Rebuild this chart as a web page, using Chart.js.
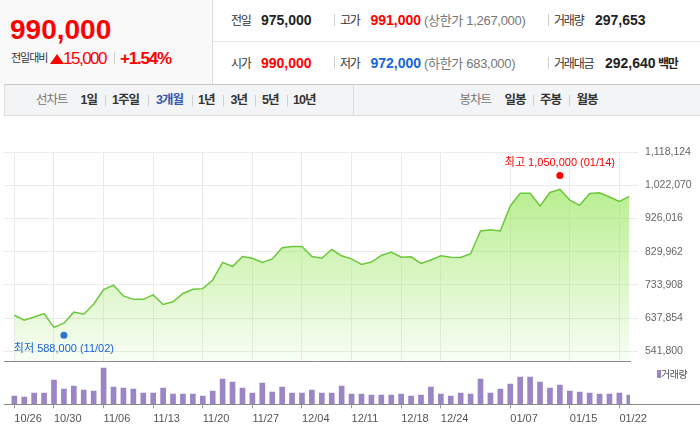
<!DOCTYPE html>
<html><head><meta charset="utf-8">
<script src="https://cdn.jsdelivr.net/npm/chart.js@4.4.1/dist/chart.umd.min.js"></script>
<style>
*{margin:0;padding:0;box-sizing:border-box}
body{width:700px;height:440px;position:relative;background:#fff;overflow:hidden;
 font-family:'Liberation Sans','Noto Sans CJK KR',sans-serif}
.a{position:absolute;white-space:nowrap;line-height:1}
.lb{font-size:12px;letter-spacing:-1.2px;color:#333}
.nb{font-size:14px;font-weight:bold;color:#222}
.pr{font-size:13px;color:#777;letter-spacing:-0.3px}
.sep{position:absolute;width:1px;background:#d0d0d0}
.tb{font-size:12.5px;letter-spacing:-1px;font-weight:bold;color:#333}
canvas{position:absolute;left:0}
</style></head>
<body>
<div class="a" style="left:0;top:0;width:213px;height:84px;background:#f9f9f9;border-right:1px solid #dedede"></div>
<div class="a" style="left:213px;top:41px;width:487px;height:1px;background:#e6e6e6"></div>
<span class="a" style="left:10px;top:15.6px;font-size:28px;font-weight:bold;color:#f00">990,000</span>
<span class="a" style="left:11px;top:53px;font-size:11px;letter-spacing:-1px;color:#333">전일대비</span>
<div class="a" style="left:50px;top:53.5px;width:0;height:0;border-left:7px solid transparent;border-right:7px solid transparent;border-bottom:10.5px solid #f00"></div>
<span class="a" style="left:63px;top:49.6px;font-size:17px;letter-spacing:-1.5px;color:#f00">15,000</span>
<div class="sep" style="left:114px;top:52px;height:12px"></div>
<span class="a" style="left:120px;top:49.6px;font-size:17px;font-weight:bold;letter-spacing:-1.2px;color:#f00">+1.54%</span>

<span class="a lb" style="left:231px;top:14.8px">전일</span>
<span class="a nb" style="left:261px;top:13.15px">975,000</span>
<div class="sep" style="left:334px;top:14px;height:12px"></div>
<span class="a lb" style="left:340px;top:14.8px">고가</span>
<span class="a nb" style="left:370.5px;top:13.15px;color:#f00">991,000</span>
<span class="a pr" style="left:424px;top:14px">(상한가 1,267,000)</span>
<div class="sep" style="left:548px;top:14px;height:12px"></div>
<span class="a lb" style="left:554px;top:14.8px">거래량</span>
<span class="a nb" style="left:595px;top:13.15px">297,653</span>

<span class="a lb" style="left:231px;top:58.1px">시가</span>
<span class="a nb" style="left:261px;top:56.45px;color:#f00">990,000</span>
<div class="sep" style="left:334px;top:57.3px;height:12px"></div>
<span class="a lb" style="left:340px;top:58.1px">저가</span>
<span class="a nb" style="left:370.5px;top:56.45px;color:#1565e0">972,000</span>
<span class="a pr" style="left:424px;top:57.3px">(하한가 683,000)</span>
<div class="sep" style="left:548px;top:57.3px;height:12px"></div>
<span class="a lb" style="left:554px;top:58.1px">거래대금</span>
<span class="a nb" style="left:605px;top:56.45px">292,640</span>
<span class="a lb" style="left:658px;top:58.1px;font-weight:bold;color:#222">백만</span>

<div class="a" style="left:4px;top:84px;width:696px;height:32px;background:#f3f4f6;border-top:1px solid #c8c8c8;border-bottom:1px solid #dcdcdc;border-left:1px solid #dcdcdc"></div>
<div class="a" style="left:353px;top:84px;width:1px;height:32px;background:#dcdcdc"></div>
<span class="a tb" style="left:36px;top:94.4px;color:#777;font-weight:normal">선차트</span>
<span class="a tb" style="left:80.5px;top:94.4px">1일</span>
<div class="sep" style="left:105px;top:95px;height:11px"></div>
<span class="a tb" style="left:112px;top:94.4px">1주일</span>
<div class="sep" style="left:148px;top:95px;height:11px"></div>
<span class="a tb" style="left:156px;top:94.4px;color:#3857b0">3개월</span>
<div class="sep" style="left:191.5px;top:95px;height:11px"></div>
<span class="a tb" style="left:198px;top:94.4px">1년</span>
<div class="sep" style="left:223px;top:95px;height:11px"></div>
<span class="a tb" style="left:230.5px;top:94.4px">3년</span>
<div class="sep" style="left:255px;top:95px;height:11px"></div>
<span class="a tb" style="left:262px;top:94.4px">5년</span>
<div class="sep" style="left:287px;top:95px;height:11px"></div>
<span class="a tb" style="left:293px;top:94.4px">10년</span>
<span class="a tb" style="left:459.5px;top:94.4px;color:#777;font-weight:normal">봉차트</span>
<span class="a tb" style="left:504.5px;top:94.4px">일봉</span>
<div class="sep" style="left:533px;top:95px;height:11px"></div>
<span class="a tb" style="left:540px;top:94.4px">주봉</span>
<div class="sep" style="left:569px;top:95px;height:11px"></div>
<span class="a tb" style="left:576.5px;top:94.4px">월봉</span>

<canvas id="price" width="700" height="256" style="top:120px;width:700px;height:256px"></canvas>
<canvas id="vol" width="700" height="79" style="top:361px;width:700px;height:79px"></canvas>
<div class="a" style="left:657px;top:370px;width:3.5px;height:8px;background:#9b86c5"></div>
<span class="a" style="left:661px;top:369.5px;font-size:10px;color:#555;letter-spacing:-0.5px">거래량</span>

<script>
const dates = ['10/26','10/27','10/28','10/29','10/30','10/31','11/01','11/02','11/05','11/06',
 '11/07','11/08','11/09','11/12','11/13','11/14','11/15','11/16','11/19','11/20',
 '11/21','11/22','11/23','11/26','11/27','11/28','11/29','11/30','12/03','12/04',
 '12/05','12/06','12/07','12/10','12/11','12/12','12/13','12/14','12/17','12/18',
 '12/19','12/20','12/21','12/24','12/26','12/27','12/28','01/02','01/03','01/04',
 '01/07','01/08','01/09','01/10','01/11','01/14','01/15','01/16','01/17','01/18',
 '01/21','01/22','01/23'];
const tickDates = ['10/26','10/30','11/06','11/13','11/20','11/27','12/04','12/11','12/18','12/24','01/07','01/15','01/22'];
const closePrices = [646000,632000,641000,651000,611000,623000,655000,649000,678000,720000,
 733000,702000,692000,692000,705000,677000,685000,709000,721000,723000,
 748000,799000,787000,816000,811000,799000,809000,841000,845000,845000,
 816000,811000,836000,818000,809000,793000,800000,819000,829000,814000,
 815000,796000,806000,818000,814000,813000,824000,890000,893000,890000,
 962000,999000,999000,962000,1001000,1010000,979000,964000,998000,1000000,
 988000,975000,990000];
const volumes = [266000,234000,362000,362000,778000,490000,586000,458000,426000,1162000,
 554000,522000,490000,362000,362000,522000,330000,330000,330000,266000,
 426000,810000,714000,522000,362000,682000,394000,554000,362000,362000,
 458000,362000,362000,586000,330000,330000,298000,298000,298000,330000,
 266000,298000,554000,330000,266000,362000,330000,810000,362000,490000,
 650000,874000,874000,714000,522000,618000,426000,394000,362000,330000,
 330000,362000,297653];
const priceTicks = [541800,637854,733908,829962,926016,1022070,1118124];
const highMark = {x:55, value:1050000, text:'최고 1,050,000 (01/14)'};
const lowMark = {x:5, value:588000, text:'최저 588,000 (11/02)'};

const FONT = "'Liberation Sans','Noto Sans CJK KR',sans-serif";
const tickIdx = tickDates.map(d => dates.indexOf(d));
const X_MIN = -1.04, X_MAX = 62.07;
const RED = '#ff0000', BLUE = '#1a62d8';

const markLabels = {
  id:'markLabels',
  afterDatasetsDraw(chart){
    const ctx = chart.ctx;
    [[1, highMark, RED, -12.5], [2, lowMark, BLUE, 14]].forEach(([di, m, col, off]) => {
      const el = chart.getDatasetMeta(di).data[0];
      if (!el) return;
      ctx.save();
      ctx.font = '11px ' + FONT;
      ctx.fillStyle = col;
      ctx.textAlign = 'center';
      ctx.textBaseline = 'middle';
      ctx.fillText(m.text, el.x, el.y + off);
      ctx.restore();
    });
  }
};

new Chart(document.getElementById('price'), {
  type:'line',
  data:{datasets:[
    {data: closePrices.map((v,i)=>({x:i,y:v})), borderColor:'#6cc83a', borderWidth:1.5,
     pointRadius:0, tension:0, fill:'start',
     backgroundColor: c => {
       const a = c.chart.chartArea;
       if (!a) return 'rgba(150,230,90,0.4)';
       const g = c.chart.ctx.createLinearGradient(0, a.top, 0, a.bottom);
       g.addColorStop(0, 'rgba(150,230,90,0.8)');
       g.addColorStop(1, 'rgba(150,230,90,0.06)');
       return g;
     }},
    {type:'scatter', data:[{x:highMark.x, y:highMark.value}], pointRadius:3.5, backgroundColor:RED, borderWidth:0},
    {type:'scatter', data:[{x:lowMark.x, y:lowMark.value}], pointRadius:3.5, backgroundColor:BLUE, borderWidth:0}
  ]},
  options:{
    responsive:false, animation:false, devicePixelRatio:1,
    layout:{padding:{left:4, top:32, right:0, bottom:0}},
    plugins:{legend:{display:false}, tooltip:{enabled:false}},
    scales:{
      x:{type:'linear', min:X_MIN, max:X_MAX,
         afterBuildTicks: s => { s.ticks = tickIdx.map(v => ({value:v})); },
         afterFit: s => { s.height = 15; },
         ticks:{display:false},
         grid:{color:'#ebebeb', drawTicks:false},
         border:{display:true, color:'#8a8a8a'}},
      y:{position:'right', min:513700, max:1118124,
         afterBuildTicks: s => { s.ticks = priceTicks.map(v => ({value:v})); },
         afterFit: s => { s.width = 70; },
         ticks:{color:'#666', font:{family:FONT, size:10.5}, padding:7,
                callback: v => Number(v).toLocaleString('en-US')},
         grid:{color:'#ebebeb', tickLength:8},
         border:{display:false}}
    }
  },
  plugins:[markLabels]
});

const extendBase = {
  id:'extendBase',
  afterDraw(chart){
    const a = chart.chartArea, ctx = chart.ctx;
    ctx.save();
    ctx.strokeStyle = '#8a8a8a'; ctx.lineWidth = 1;
    const y = Math.round(a.bottom) + 0.5;
    ctx.beginPath(); ctx.moveTo(a.right, y); ctx.lineTo(chart.width, y); ctx.stroke();
    ctx.restore();
  }
};

new Chart(document.getElementById('vol'), {
  type:'bar',
  data:{datasets:[{data: volumes.map((v,i)=>({x:i,y:v})), backgroundColor:'#9b86c5', barThickness:5}]},
  options:{
    responsive:false, animation:false, devicePixelRatio:1,
    layout:{padding:{left:4, right:70, top:0, bottom:0}},
    plugins:{legend:{display:false}, tooltip:{enabled:false}},
    scales:{
      x:{type:'linear', min:X_MIN, max:X_MAX, offset:false,
         afterBuildTicks: s => { s.ticks = tickIdx.map(v => ({value:v})); },
         afterFit: s => { s.height = 35.7; },
         ticks:{align:'start', color:'#555', font:{family:FONT, size:11}, padding:4.5,
                maxRotation:0, autoSkip:false, callback: v => dates[v]},
         grid:{offset:false, drawOnChartArea:false, drawTicks:true, tickLength:4, color:'#999'},
         border:{display:true, color:'#8a8a8a'}},
      y:{display:false, min:0, max:1386000}
    }
  },
  plugins:[extendBase]
});
</script>
</body></html>
